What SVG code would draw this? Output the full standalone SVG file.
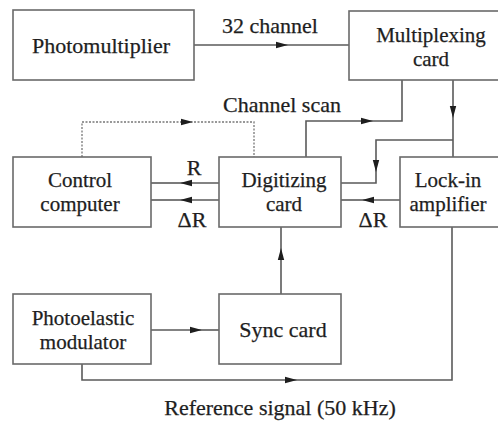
<svg xmlns="http://www.w3.org/2000/svg" width="498" height="425" viewBox="0 0 498 425">
<defs>
<style>
.box{fill:#fff;stroke:#6a6a6a;stroke-width:1.6}
.ln{fill:none;stroke:#5a5a5a;stroke-width:1.6}
.dot{fill:none;stroke:#777;stroke-width:1.3;stroke-dasharray:2 1.5}
.t{font-family:'Liberation Serif','DejaVu Serif',serif;font-size:22px;fill:#1e1e1e;stroke:#1e1e1e;stroke-width:0.25;text-anchor:middle}
.t2{font-size:21px}
</style>
<marker id="ah" viewBox="0 0 12 8" refX="12" refY="4" markerWidth="12" markerHeight="8" markerUnits="userSpaceOnUse" orient="auto">
<path d="M0,0.8 L12,4 L0,7.2 Z" fill="#1e1e1e"/>
</marker>
</defs>
<rect width="498" height="425" fill="#fff"/>
<g id="connectors">
<path class="ln" d="M194,45 H288" marker-end="url(#ah)"/><path class="ln" d="M288,45 H349"/>
<path class="ln" d="M306,157 V121 H373" marker-end="url(#ah)"/><path class="ln" d="M373,121 H402 V80"/>
<path class="dot" d="M82,157 V122 H254 V157"/><path d="M181,122 H193" stroke="none" fill="none" marker-end="url(#ah)"/>
<path class="ln" d="M453,80 V118" marker-end="url(#ah)"/><path class="ln" d="M453,118 V157"/>
<path class="ln" d="M453,140 H376 V172" marker-end="url(#ah)"/><path class="ln" d="M376,172 V183 H341"/>
<path class="ln" d="M219,183 H180" marker-end="url(#ah)"/><path class="ln" d="M180,183 H151"/>
<path class="ln" d="M219,200 H180" marker-end="url(#ah)"/><path class="ln" d="M180,200 H151"/>
<path class="ln" d="M400,200 H362" marker-end="url(#ah)"/><path class="ln" d="M362,200 H341"/>
<path class="ln" d="M281,294 V248" marker-end="url(#ah)"/><path class="ln" d="M281,248 V227"/>
<path class="ln" d="M151,330 H202" marker-end="url(#ah)"/><path class="ln" d="M202,330 H219"/>
<path class="ln" d="M82,364 V380 H297" marker-end="url(#ah)"/><path class="ln" d="M297,380 H452 V227"/>
<text class="t" x="270" y="33">32 channel</text>
<text class="t" x="282" y="112">Channel scan</text>
<text class="t" x="194" y="175">R</text>
<text class="t" x="192" y="227">ΔR</text>
<text class="t" x="373" y="227">ΔR</text>
<text class="t" x="280" y="415">Reference signal (50 kHz)</text>
</g>
<g id="photomultiplier"><rect class="box" x="13" y="10" width="181" height="70"/><text class="t" x="101" y="53">Photomultiplier</text></g>
<g id="multiplexing"><rect class="box" x="349" y="11" width="160" height="69"/><text class="t t2" x="431" y="42">Multiplexing</text><text class="t t2" x="431" y="66">card</text></g>
<g id="control"><rect class="box" x="13" y="157" width="138" height="70"/><text class="t t2" x="80" y="187">Control</text><text class="t t2" x="80" y="211">computer</text></g>
<g id="digitizing"><rect class="box" x="219" y="157" width="122" height="70"/><text class="t t2" x="284" y="187">Digitizing</text><text class="t t2" x="284" y="211">card</text></g>
<g id="lockin"><rect class="box" x="400" y="157" width="110" height="70"/><text class="t t2" x="448" y="187">Lock-in</text><text class="t t2" x="448" y="211">amplifier</text></g>
<g id="pem"><rect class="box" x="13" y="294" width="138" height="70"/><text class="t t2" x="83" y="325">Photoelastic</text><text class="t t2" x="83" y="349">modulator</text></g>
<g id="sync"><rect class="box" x="219" y="294" width="122" height="70"/><text class="t" x="283" y="337">Sync card</text></g>
</svg>
